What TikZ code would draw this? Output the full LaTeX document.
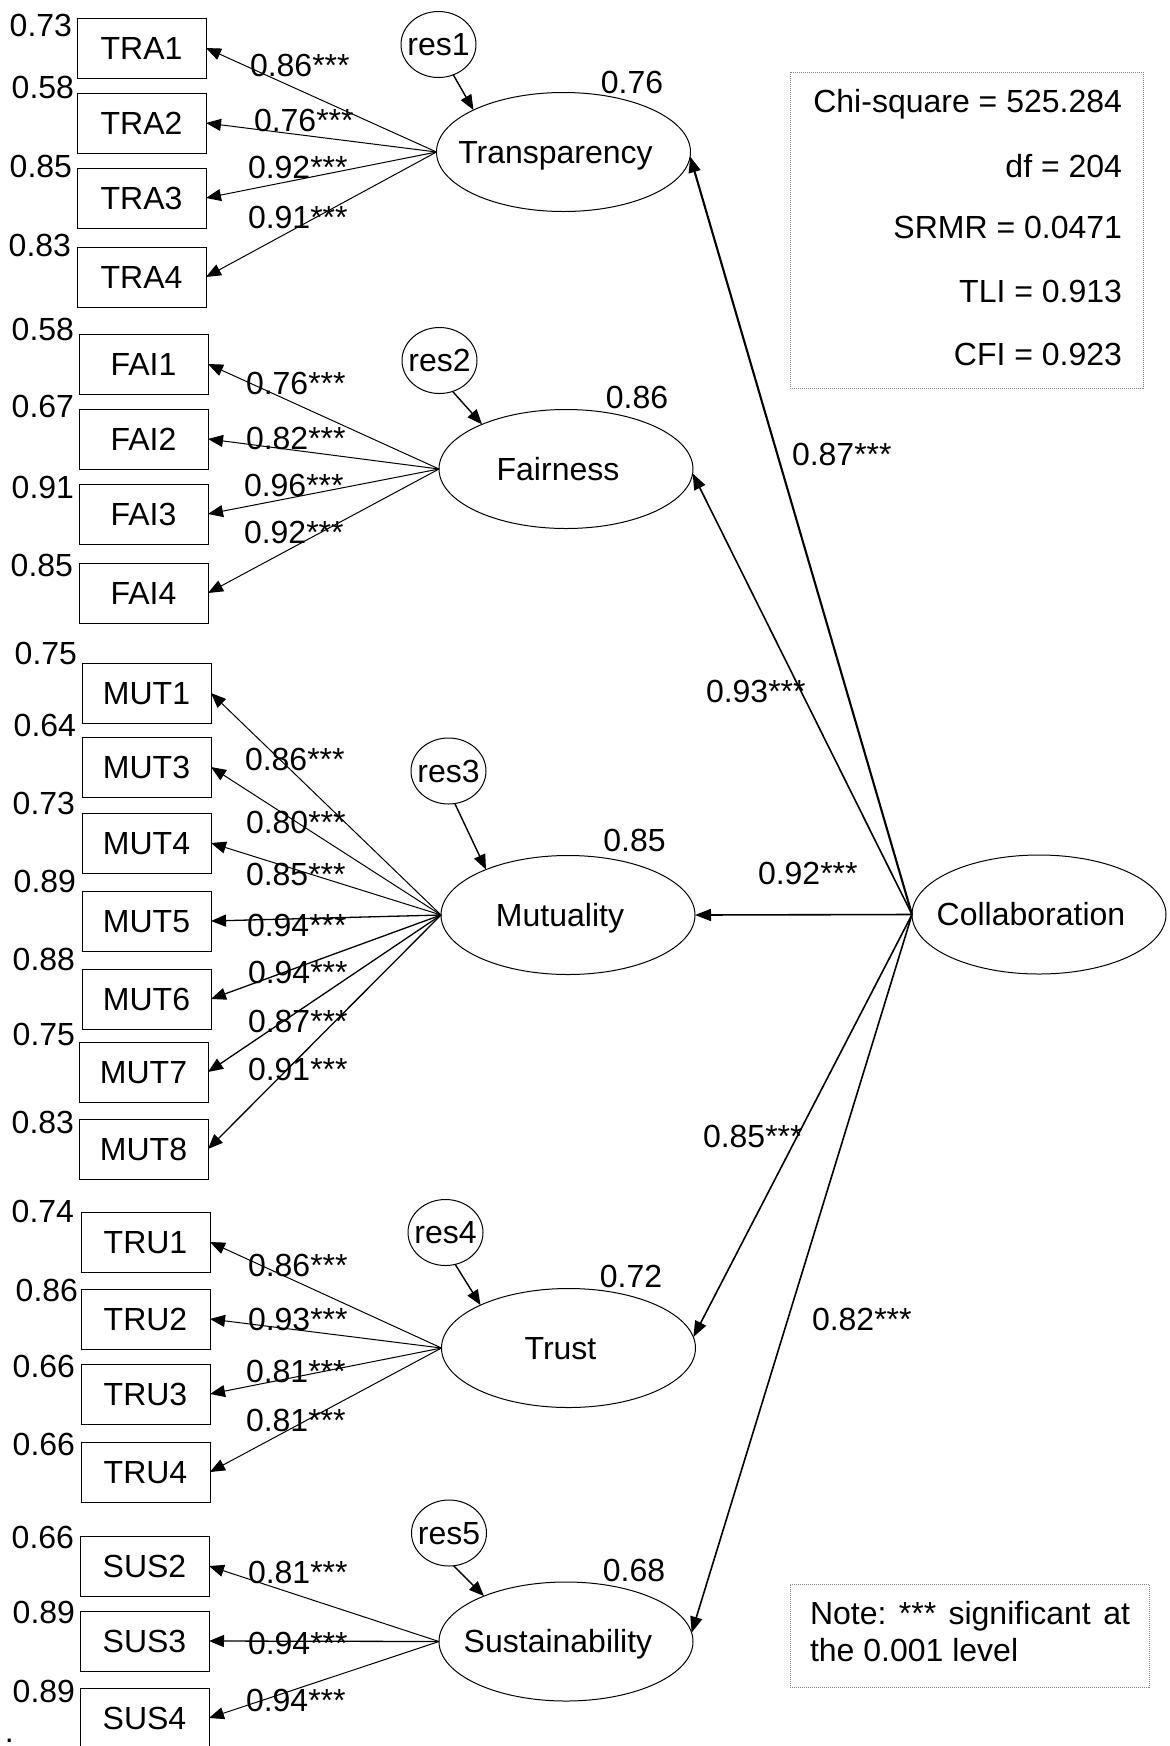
\documentclass[tikz,border=0pt]{standalone}
\usepackage{fontspec}
\setmainfont{Liberation Sans}
\usetikzlibrary{arrows.meta,shapes.geometric}
\newcommand{\lattext}[1]{\makebox[0pt]{#1\hspace{16pt}}}
\newcommand{\restext}[1]{\makebox[0pt]{#1}}
\frenchspacing
\begin{document}
\begin{tikzpicture}[x=1pt,y=-1pt,
  every node/.style={inner sep=0pt,outer sep=0pt,font=\fontsize{32}{38}\selectfont,text height=22.9pt,text depth=0pt},
  ind/.style={draw,line width=1pt,minimum width=129pt,minimum height=60pt},
  lat/.style={draw,ellipse,line width=1pt,minimum width=254pt,minimum height=119pt},
  resid/.style={draw,ellipse,line width=1pt,minimum width=75pt,minimum height=66pt},
  err/.style={anchor=east},
  coef/.style={anchor=west},
  load/.style={line width=1pt,-{Triangle[length=15pt,width=12pt]}},
  struct/.style={line width=1.6pt,-{Triangle[length=16pt,width=12pt]}},
  resarrow/.style={line width=1.4pt,-{Triangle[length=15pt,width=12pt]}},
  fitbox/.style={draw=gray,densely dotted,line width=1pt},
  fittext/.style={anchor=east,font=\fontsize{32}{38}\selectfont,text height=22.9pt},
]
\useasboundingbox (0,0) rectangle (1170,1746);
\fill[white] (0,0) rectangle (1170,1746);

% ---------- latent variables ----------
\node[lat] (transp) at (563.5,152) {\lattext{Transparency}};
\node[lat] (fair) at (566,469) {\lattext{Fairness}};
\node[lat] (mut) at (568,915) {\lattext{Mutuality}};
\node[lat] (trust) at (568.5,1348) {\lattext{Trust}};
\node[lat] (sust) at (566,1641.5) {\lattext{Sustainability}};
\node[lat] (collab) at (1039,914.5) {\lattext{Collaboration}};

% ---------- residuals ----------
\node[resid] (res1) at (438.5,44.5) {\restext{res1}};
\node[resid] (res2) at (439.5,360.5) {\restext{res2}};
\node[resid] (res3) at (448.5,771) {\restext{res3}};
\node[resid] (res4) at (445.5,1232.5) {\restext{res4}};
\node[resid] (res5) at (449,1533) {\restext{res5}};

% ---------- indicators ----------
\node[ind] (tra1) at (141.5,48) {TRA1};
\node[ind] (tra2) at (141.5,123) {TRA2};
\node[ind] (tra3) at (141.5,198) {TRA3};
\node[ind] (tra4) at (141.5,277) {TRA4};

\node[ind] (fai1) at (143.5,364) {FAI1};
\node[ind] (fai2) at (143.5,439) {FAI2};
\node[ind] (fai3) at (143.5,514) {FAI3};
\node[ind] (fai4) at (143.5,593) {FAI4};

\node[ind] (mut1) at (146.5,693) {MUT1};
\node[ind] (mut3) at (146.5,767) {MUT3};
\node[ind] (mut4) at (146.5,843) {MUT4};
\node[ind] (mut5) at (146.5,921) {MUT5};
\node[ind] (mut6) at (146.5,999) {MUT6};
\node[ind] (mut7) at (143.5,1072) {MUT7};
\node[ind] (mut8) at (143.5,1149) {MUT8};

\node[ind] (tru1) at (145.5,1242) {TRU1};
\node[ind] (tru2) at (145.5,1319) {TRU2};
\node[ind] (tru3) at (145.5,1394) {TRU3};
\node[ind] (tru4) at (145.5,1472) {TRU4};

\node[ind] (sus2) at (144.5,1566) {SUS2};
\node[ind] (sus3) at (144.5,1641) {SUS3};
\node[ind] (sus4) at (144.5,1718) {SUS4};

% ---------- error variance labels ----------
\node[err] (etra1) at (72,25) {0.73};
\node[err] (etra2) at (74,87) {0.58};
\node[err] (etra3) at (72,166) {0.85};
\node[err] (etra4) at (71,245) {0.83};

\node[err] (efai1) at (74,329) {0.58};
\node[err] (efai2) at (74,406) {0.67};
\node[err] (efai3) at (74,487) {0.91};
\node[err] (efai4) at (73,565) {0.85};

\node[err] (emut1) at (77,653) {0.75};
\node[err] (emut3) at (76,725) {0.64};
\node[err] (emut4) at (75,803) {0.73};
\node[err] (emut5) at (76,881) {0.89};
\node[err] (emut6) at (75,959) {0.88};
\node[err] (emut7) at (75,1034) {0.75};
\node[err] (emut8) at (74,1122) {0.83};

\node[err] (etru1) at (74,1211) {0.74};
\node[err] (etru2) at (78,1290) {0.86};
\node[err] (etru3) at (75,1366) {0.66};
\node[err] (etru4) at (75,1444) {0.66};

\node[err] (esus2) at (74,1537) {0.66};
\node[err] (esus3) at (75,1612) {0.89};
\node[err] (esus4) at (75,1691) {0.89};

% ---------- R squared ----------
\node (rtransp) at (632,82) {0.76};
\node (rfair) at (637,397) {0.86};
\node (rmut) at (634.5,840) {0.85};
\node (rtrust) at (631,1276) {0.72};
\node (rsust) at (634,1570) {0.68};

% ---------- loadings ----------
\foreach \lv/\ob in {transp/tra1,transp/tra2,transp/tra3,transp/tra4,
                     fair/fai1,fair/fai2,fair/fai3,fair/fai4,
                     mut/mut1,mut/mut3,mut/mut4,
                     trust/tru1,trust/tru2,trust/tru3,trust/tru4,
                     sust/sus2,sust/sus4}
  \draw[load] (\lv.west) -- (\ob.east);
\foreach \ob in {mut5,mut6,mut7,mut8}
  \draw[load,line width=1.3pt] (mut.west) -- (\ob.east);
\draw[load,line width=1.3pt] (sust.west) -- (sus3.east);

\node[coef] (ltra1) at (250,65) {0.86***};
\node[coef] (ltra2) at (254,120) {0.76***};
\node[coef] (ltra3) at (248,167) {0.92***};
\node[coef] (ltra4) at (248,217) {0.91***};

\node[coef] (lfai1) at (246,383) {0.76***};
\node[coef] (lfai2) at (246,438) {0.82***};
\node[coef] (lfai3) at (244,485) {0.96***};
\node[coef] (lfai4) at (244,532) {0.92***};

\node[coef] (lmut1) at (245,759) {0.86***};
\node[coef] (lmut3) at (246,822) {0.80***};
\node[coef] (lmut4) at (246,874) {0.85***};
\node[coef] (lmut5) at (247,925) {0.94***};
\node[coef] (lmut6) at (248,972) {0.94***};
\node[coef] (lmut7) at (248,1021) {0.87***};
\node[coef] (lmut8) at (248,1069) {0.91***};

\node[coef] (ltru1) at (248,1265) {0.86***};
\node[coef] (ltru2) at (248,1319) {0.93***};
\node[coef] (ltru3) at (246,1371) {0.81***};
\node[coef] (ltru4) at (246,1420) {0.81***};

\node[coef] (lsus2) at (248,1572) {0.81***};
\node[coef] (lsus3) at (248,1643) {0.94***};
\node[coef] (lsus4) at (246,1700) {0.94***};

% ---------- residual arrows ----------
\draw[resarrow] (res1.296) -- (transp.155);
\draw[resarrow] (res2.293) -- (fair.152);
\draw[resarrow] (res3.281) -- (mut.151);
\draw[resarrow] (res4.287) -- (trust.154);
\draw[resarrow] (res5.278) -- (sust.151);

% ---------- structural paths ----------
\draw[struct,line width=2.1pt] (collab.west) -- (transp.358);
\draw[struct] (collab.west) -- (fair.358);
\draw[struct] (collab.west) -- (mut.east);
\draw[struct] (collab.west) -- (trust.5);
\draw[struct] (collab.west) -- (sust.4);

\node[coef] (lctransp) at (792,454) {0.87***};
\node[coef] (lcfair) at (706,691) {0.93***};
\node[coef] (lcmut) at (758,873) {0.92***};
\node[coef] (lctrust) at (703,1136) {0.85***};
\node[coef] (lcsust) at (812,1319) {0.82***};

% ---------- fit indices ----------
\node[fitbox,minimum width=353pt,minimum height=316pt] (fit) at (966.5,230) {};
\node[fittext] (chi) at (1122,101) {Chi-square = 525.284};
\node[fittext] (df) at (1122,166.5) {df = 204};
\node[fittext] (srmr) at (1122,227.5) {SRMR = 0.0471};
\node[fittext] (tli) at (1122,291) {TLI = 0.913};
\node[fittext] (cfi) at (1122,354) {CFI = 0.923};

% ---------- note ----------
\node[fitbox,minimum width=359pt,minimum height=103pt] (note) at (969.5,1635.5) {};
\node[anchor=west,font=\fontsize{32}{38}\selectfont,text height=22.9pt] (note1) at (810,1613.5) {\frenchspacing\makebox[320pt][s]{Note: *** significant at}};
\node[anchor=west,font=\fontsize{32}{38}\selectfont,text height=22.9pt] (note2) at (810,1650) {the 0.001 level};

% ---------- stray dot ----------
\node[anchor=base west] (dot) at (5,1742) {.};
\end{tikzpicture}
\end{document}
